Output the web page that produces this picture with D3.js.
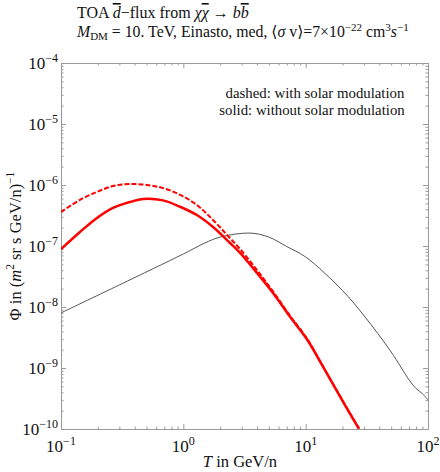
<!DOCTYPE html>
<html>
<head>
<meta charset="utf-8">
<script src="https://cdn.jsdelivr.net/npm/d3@7"></script>
<style>
  body { margin: 0; background: #fff; }
  svg text { font-family: "Liberation Serif", "DejaVu Serif", serif; fill: #111; }
</style>
</head>
<body>
<div id="chart"></div>
<script>
// data (T in GeV/n, flux)
const grayT   = [0.1, 0.3, 1, 1.5, 2, 3.5, 5, 7, 10, 20, 30, 50, 70, 80, 90, 100];
const grayPhi = [8.0e-9, 2.3e-8, 7.4e-8, 1.12e-7, 1.4e-7, 1.63e-7, 1.4e-7, 9.8e-8, 6.6e-8,
                 1.86e-8, 7.2e-9, 1.83e-9, 6.4e-10, 4.6e-10, 3.8e-10, 3.0e-10];

const solidT   = [0.1, 0.143, 0.197, 0.266, 0.366, 0.468, 0.682, 0.94, 1.29, 1.75, 2.41, 2.91,
                  4.01, 5.41, 7.45, 10.3, 13.9, 19.8, 27.3];
const solidPhi = [8.9e-8, 1.7e-7, 2.88e-7, 4.2e-7, 5.26e-7, 5.9e-7, 5.6e-7, 4.4e-7, 3.22e-7,
                  2.05e-7, 1.12e-7, 7.7e-8, 3.6e-8, 1.7e-8, 6.9e-9, 2.9e-9, 1.04e-9, 3.0e-10, 1.0e-10];

const dashT   = [0.1, 0.143, 0.197, 0.266, 0.366, 0.505, 0.682, 0.94, 1.29, 1.75, 2.28, 2.91,
                 4.01, 5.41, 7.45, 10.3, 13.9, 19.8, 27.3];
const dashPhi = [3.6e-7, 5.7e-7, 7.7e-7, 9.6e-7, 1.04e-6, 1.0e-6, 8.9e-7, 6.9e-7, 4.7e-7,
                 2.67e-7, 1.51e-7, 8.9e-8, 4.0e-8, 1.8e-8, 7.2e-9, 3.0e-9, 1.05e-9, 3.05e-10, 1.02e-10];

const xMajor = [-1, 0, 1, 2];
const yMajor = [-10, -9, -8, -7, -6, -5, -4];

const W = 440, H = 472;
const M = {top: 63, bottom: 43, left: 61, right: 12};

const svg = d3.select('#chart').append('svg')
    .attr('width', W).attr('height', H);

const x = d3.scaleLog().domain([0.1, 100]).range([M.left, W - M.right]);
const y = d3.scaleLog().domain([1e-10, 1e-4]).range([H - M.bottom, M.top]);

const frameColor = '#9a9a9a';

// minor + major ticks, pointing inwards on all four sides
function ticksOn(axisGen, scale, len, vals) {
    return axisGen(scale).tickValues(vals).tickSizeInner(len).tickSizeOuter(0).tickFormat('');
}
const xMinor = x.ticks().filter(v => !xMajor.includes(Math.round(Math.log10(v) * 1000) / 1000));
const yMinor = y.ticks().filter(v => !yMajor.includes(Math.round(Math.log10(v) * 1000) / 1000));
const xMaj = xMajor.map(e => Math.pow(10, e));
const yMaj = yMajor.map(e => Math.pow(10, e));

const axes = svg.append('g');
[[d3.axisBottom, 'x', `translate(0,${H - M.bottom})`],
 [d3.axisTop, 'x', `translate(0,${M.top})`],
 [d3.axisLeft, 'y', `translate(${M.left},0)`],
 [d3.axisRight, 'y', `translate(${W - M.right},0)`]].forEach(([gen, k, tr]) => {
    const sc = k === 'x' ? x : y;
    const maj = k === 'x' ? xMaj : yMaj;
    const min = k === 'x' ? xMinor : yMinor;
    axes.append('g').attr('transform', tr).call(ticksOn(gen, sc, -2.5, min));
    axes.append('g').attr('transform', tr).call(ticksOn(gen, sc, -5, maj));
});
axes.selectAll('.domain').attr('stroke', frameColor);
axes.selectAll('.tick line').attr('stroke', frameColor);

// tick labels with superscripts
const xLab = svg.append('g');
xMajor.forEach(e => {
    const t = xLab.append('text')
        .attr('x', x(Math.pow(10, e))).attr('y', H - M.bottom + 23)
        .attr('text-anchor', 'middle').attr('font-size', 17);
    t.append('tspan').text('10');
    t.append('tspan').attr('dy', -7).attr('font-size', 12).text(String(e).replace('-', '\u2212'));
});
const yLab = svg.append('g');
yMajor.forEach(e => {
    const t = yLab.append('text')
        .attr('x', M.left - 3).attr('y', y(Math.pow(10, e)) + 6)
        .attr('text-anchor', 'end').attr('font-size', 17);
    t.append('tspan').text('10');
    t.append('tspan').attr('dy', -7).attr('font-size', 12).text('\u2212' + Math.abs(e));
});

// curves
svg.append('clipPath').attr('id', 'plotClip').append('rect')
    .attr('x', M.left).attr('y', M.top)
    .attr('width', W - M.left - M.right).attr('height', H - M.top - M.bottom);

const line = d3.line().curve(d3.curveCatmullRom.alpha(0.5)).x(d => x(d[0])).y(d => y(d[1]));
const plot = svg.append('g').attr('clip-path', 'url(#plotClip)');

plot.append('path')
    .attr('d', line(d3.zip(grayT, grayPhi)))
    .attr('fill', 'none').attr('stroke', '#555').attr('stroke-width', 1);
plot.append('path')
    .attr('d', line(d3.zip(dashT, dashPhi)))
    .attr('fill', 'none').attr('stroke', '#ff0000').attr('stroke-width', 2)
    .attr('stroke-dasharray', '5,2');
plot.append('path')
    .attr('d', line(d3.zip(solidT, solidPhi)))
    .attr('fill', 'none').attr('stroke', '#ff0000').attr('stroke-width', 2.5);

// note inside plot
const note = svg.append('g').attr('font-size', 14.8).attr('text-anchor', 'middle');
note.append('text').attr('x', 315).attr('y', 98).text('dashed: with solar modulation');
note.append('text').attr('x', 312).attr('y', 115).text('solid: without solar modulation');

// axis titles
const xt = svg.append('text').attr('x', 240).attr('y', 467)
    .attr('text-anchor', 'middle').attr('font-size', 16.5);
xt.append('tspan').attr('font-style', 'italic').text('T');
xt.append('tspan').text(' in GeV/n');

const yt = svg.append('text')
    .attr('transform', `translate(21,${(M.top + H - M.bottom) / 2}) rotate(-90)`)
    .attr('text-anchor', 'middle').attr('font-size', 16.5);
yt.append('tspan').text('\u03a6 in (');
yt.append('tspan').attr('font-style', 'italic').text('m');
yt.append('tspan').attr('dy', -7).attr('font-size', 11.5).text('2');
yt.append('tspan').attr('dy', 7).text(' sr s GeV/n)');
yt.append('tspan').attr('dy', -7).attr('font-size', 11.5).text('\u22121');

// title lines
const t1 = svg.append('text').attr('x', 77).attr('y', 18).attr('font-size', 16);
t1.append('tspan').text('TOA ');
t1.append('tspan').attr('font-style', 'italic').style('text-decoration', 'overline').text('d');
t1.append('tspan').text('\u2212flux from ');
t1.append('tspan').attr('font-style', 'italic').text('\u03c7');
t1.append('tspan').attr('font-style', 'italic').style('text-decoration', 'overline').text('\u03c7');
t1.append('tspan').text(' \u2192 ');
t1.append('tspan').attr('font-style', 'italic').text('b');
t1.append('tspan').attr('font-style', 'italic').style('text-decoration', 'overline').text('b');

const t2 = svg.append('text').attr('x', 77).attr('y', 37).attr('font-size', 15.8);
t2.append('tspan').attr('font-style', 'italic').text('M');
t2.append('tspan').attr('dy', 3).attr('font-size', 11).text('DM');
t2.append('tspan').attr('dy', -3).text(' = 10. TeV, Einasto, med, \u27e8');
t2.append('tspan').attr('font-style', 'italic').text('\u03c3');
t2.append('tspan').text(' v\u27e9=7\u00d710');
t2.append('tspan').attr('dy', -6).attr('font-size', 11).text('\u221222');
t2.append('tspan').attr('dy', 6).text(' cm');
t2.append('tspan').attr('dy', -6).attr('font-size', 11).text('3');
t2.append('tspan').attr('dy', 6).attr('font-style', 'italic').text('s');
t2.append('tspan').attr('dy', -6).attr('font-size', 11).text('\u22121');
</script>
</body>
</html>
